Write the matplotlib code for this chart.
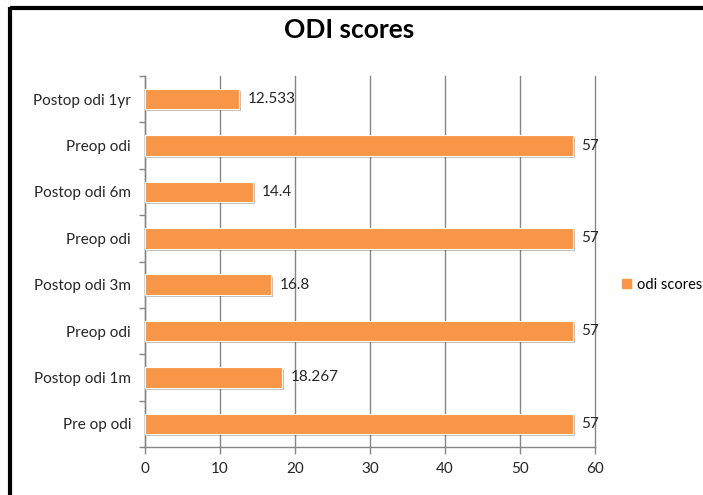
import numpy as np
import matplotlib.pyplot as plt
import matplotlib.patheffects as pe
from matplotlib.lines import Line2D

plt.rcParams['font.family'] = ['Lato', 'DejaVu Sans']

# categories from bottom to top
labels = ['Pre op odi', 'Postop odi 1m', 'Preop odi', 'Postop odi 3m',
          'Preop odi', 'Postop odi 6m', 'Preop odi', 'Postop odi 1yr']
values = [57, 18.267, 57, 16.8, 57, 14.4, 57, 12.533]
value_text = ['57', '18.267', '57', '16.8', '57', '14.4', '57', '12.533']
series_name = 'odi scores'

orange = '#F79646'
grid_col = '#868686'
txt_col = '#262626'

fig = plt.figure(figsize=(7.03, 4.95), dpi=100)
ax = fig.add_axes([145 / 703, 1 - 447 / 495, 450 / 703, 371 / 495])

pos = np.arange(len(labels))
bars = ax.barh(pos, values, height=0.44, color=orange, edgecolor='white',
               linewidth=0.8, zorder=3, label=series_name)
for b in bars:
    b.set_path_effects([pe.SimplePatchShadow(offset=(1.5, -1.5), shadow_rgbFace='#000000', alpha=0.25),
                        pe.Normal()])

for p, v, t in zip(pos, values, value_text):
    ax.text(v + 1.2, p, t, va='center', ha='left', fontsize=11, color=txt_col, zorder=4)

ax.set_xlim(0, 60)
ax.set_ylim(-0.5, len(labels) - 0.5)
ax.set_xticks(np.arange(0, 61, 10))
ax.set_yticks(pos)
ax.set_yticklabels(labels)
ax.set_yticks(np.arange(-0.5, len(labels), 1), minor=True)
ax.tick_params(axis='y', which='major', length=0, pad=10, labelsize=11, labelcolor=txt_col)
ax.tick_params(axis='y', which='minor', length=4, width=1, color=grid_col, direction='out')
ax.tick_params(axis='x', length=5, width=1, color=grid_col, pad=6, labelsize=11, labelcolor=txt_col)
ax.grid(axis='x', color=grid_col, linewidth=1, zorder=0)
for gl in ax.get_xgridlines():
    gl.set_clip_on(False)
ax.set_axisbelow(True)
for s in ['top', 'right']:
    ax.spines[s].set_visible(False)
for s in ['left', 'bottom']:
    ax.spines[s].set_color(grid_col)
    ax.spines[s].set_linewidth(1)

fig.text(349 / 703, 1 - 30 / 495, 'ODI scores', ha='center', va='center',
         fontsize=19, fontweight='bold', color='black')

# legend
fig.legend(handles=[plt.Rectangle((0, 0), 1, 1, color=orange)], labels=[series_name],
           loc='center left', bbox_to_anchor=(622 / 703, 1 - 285 / 495), frameon=False,
           borderpad=0, borderaxespad=0,
           handlelength=0.6, handleheight=0.6, handletextpad=0.45, fontsize=10.5)

# outer border (top and left visible)
fig.add_artist(Line2D([10 / 703, 1], [1 - 8 / 495, 1 - 8 / 495], color='black', linewidth=3,
                      transform=fig.transFigure, solid_capstyle='butt'))
fig.add_artist(Line2D([10 / 703, 10 / 703], [0, 1 - 6.5 / 495], color='black', linewidth=3,
                      transform=fig.transFigure, solid_capstyle='butt'))

fig.savefig('out.png', dpi=100)
